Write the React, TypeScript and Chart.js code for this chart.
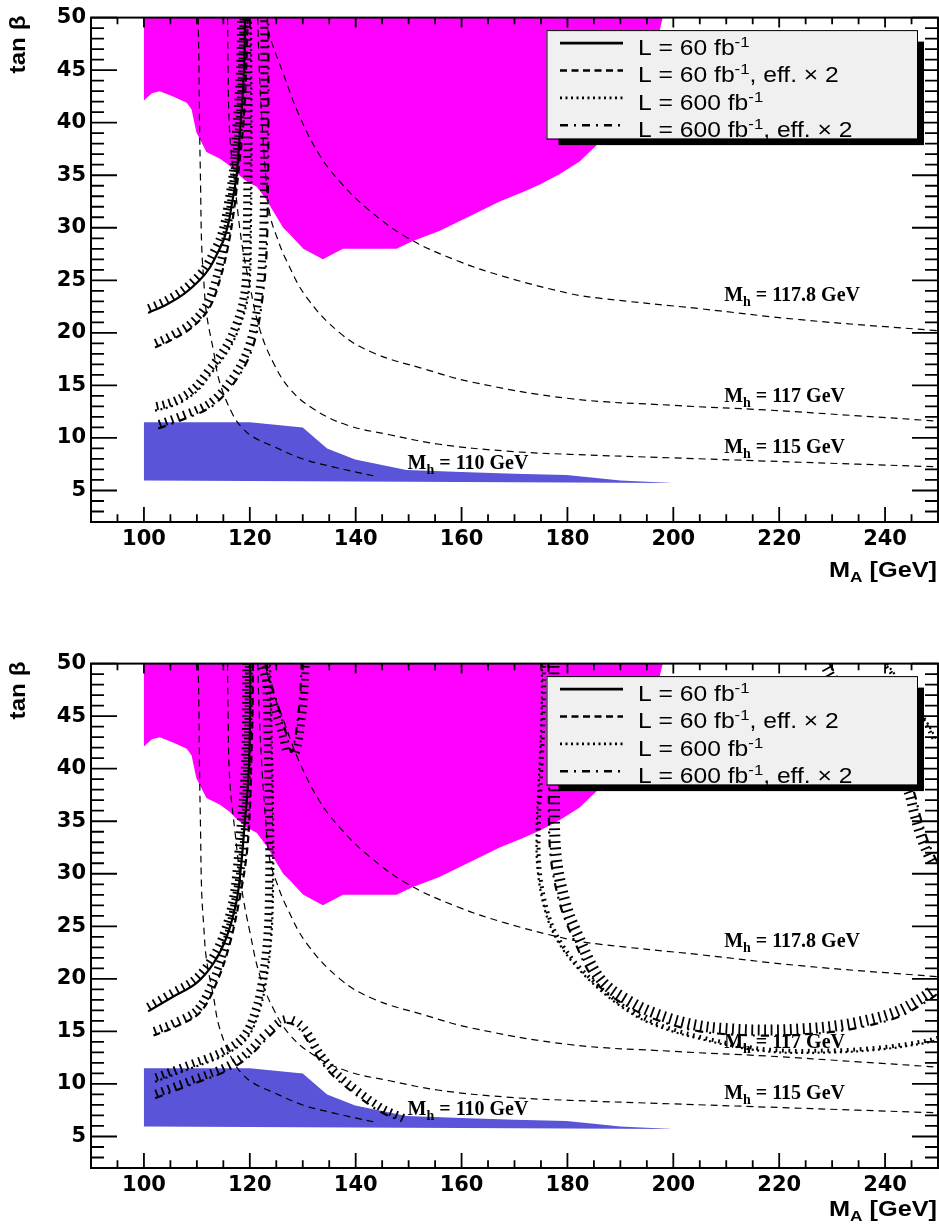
import React, { useEffect, useRef } from 'react';
import { Chart, registerables } from 'chart.js';

Chart.register(...registerables);

type P = [number, number];
type LineStyle = 'solid' | 'dashed' | 'dotted' | 'dashdot';

const X_MIN = 90;
const X_MAX = 250;
const Y_MIN = 2;
const Y_MAX = 50;
const X_TICK_VALUES = [100, 120, 140, 160, 180, 200, 220, 240];
const Y_TICK_VALUES = [5, 10, 15, 20, 25, 30, 35, 40, 45, 50];

// excluded (magenta) region, closed along tan beta = 50
const EXCLUDED_REGION: P[] = [
  [100, 50], [100, 42.1], [101.5, 42.8], [103, 43.0], [105.5, 42.5], [108.1, 41.9], [109, 41.25],
  [109.9, 39.1], [111.8, 37.2], [114.3, 36.6], [116.2, 35.9], [117.5, 35.2], [119.4, 34.4],
  [121.3, 33.9], [123.1, 32.7], [124.4, 31.6], [126.3, 30.0], [127.5, 29.4], [130.1, 28.0],
  [133.8, 27.0], [137.6, 28.0], [147.7, 28.0], [150.8, 28.75], [155.8, 29.7], [162.1, 31.25],
  [167.2, 32.5], [171.6, 33.4], [174.7, 34.1], [178.5, 35.1], [182.3, 36.3], [185.4, 37.8],
  [190, 41], [193, 44], [195.5, 46.5], [197.3, 48.5], [198, 50],
];

// LEP (blue) region, closed along its lower edge
const LEP_REGION: P[] = [
  [100, 5.95], [100, 11.5], [120, 11.5], [130, 11.0], [134.6, 9.0], [139.9, 7.95], [149.6, 6.95],
  [160, 6.75], [170, 6.6], [179.8, 6.47], [185, 6.2], [190, 5.95], [200, 5.72],
];

// Mh contours
const MH_110: P[] = [
  [110.25, 50], [110.4, 45], [110.5, 40], [110.7, 34], [110.9, 28.4], [111.3, 25], [111.8, 21.9],
  [113.1, 18.4], [114.3, 15.3], [116.8, 12.2], [118.5, 11.0], [120.6, 10.1], [124.4, 9.2],
  [130, 8.0], [135.7, 7.25], [143.3, 6.4],
];
const MH_115: P[] = [
  [115.8, 50], [115.9, 45], [116.2, 39], [117.2, 34], [118.5, 28.5], [120, 24.5], [121.9, 20.3],
  [124.4, 17.2], [127.5, 14.7], [131.9, 12.8], [138.2, 11.25], [146.4, 10.3], [155.8, 9.4],
  [168.4, 8.75], [180.4, 8.44], [200, 8.1], [217.5, 7.8], [235, 7.5], [250, 7.25],
];
const MH_117: P[] = [
  [121.5, 50], [121.8, 45], [122.3, 40], [123, 35], [123.8, 31.25], [125.2, 29], [126.9, 26.9],
  [130.7, 23.4], [137, 20], [143.3, 18.1], [152.7, 16.6], [162.1, 15.3], [180.4, 13.75],
  [200, 13.1], [217.5, 12.66], [235, 12.1], [250, 11.6],
];
const MH_1178: P[] = [
  [123.3, 50], [123.45, 48.75], [126.3, 44.7], [129.4, 40.6], [133.2, 36.9], [137, 34.4],
  [142, 31.9], [149.6, 29.1], [159, 26.9], [168.4, 25.3], [180.4, 23.75], [186, 23.3],
  [205, 22.3], [224, 21.25], [250, 20.2],
];
const MH_LINES: P[][] = [MH_110, MH_115, MH_117, MH_1178];
const MH_LABEL_TEXT = ['117.8', '117', '115', '110'];
const MH_LABEL_X = [209.6, 209.6, 209.6, 149.8];
const MH_LABEL_Y = [23.0, 13.44, 8.59, 7.09];

// upper panel discovery contours
const TOP_L60: P[] = [
  [100.8, 21.9], [104.3, 22.7], [107.7, 23.75], [110.5, 25], [112.3, 26.1], [114, 27.7],
  [115.1, 28.9], [116, 30.5], [116.6, 32.2], [117.5, 35], [118.1, 38.8], [118.7, 43],
  [119, 46.5], [119.1, 50],
];
const TOP_L60_EFF: P[] = [
  [102.1, 18.6], [105.5, 19.4], [109.3, 20.6], [112.5, 22.5], [114.6, 25.5], [116, 28.5],
  [117.1, 32], [118, 36], [118.8, 40], [119.3, 45], [119.6, 50],
];
const TOP_L600: P[] = [
  [102.1, 12.6], [104.5, 12.9], [107.4, 13.5], [110.3, 14.6], [113.1, 16.4], [115.1, 17.7],
  [116.8, 19.1], [118.3, 20.9], [119.4, 22.8], [120, 25], [120.2, 30], [120.3, 35],
  [120.3, 42], [120.2, 50],
];
const TOP_L600_EFF: P[] = [
  [102.7, 10.9], [105.5, 11.4], [108.1, 11.9], [110.6, 12.4], [113.1, 13.1], [116.2, 14.7],
  [119.4, 17.2], [121.3, 20], [122.5, 23.75], [123.1, 27], [123.4, 32.2], [123.5, 40], [123.5, 50],
];

// lower panel discovery contours
const BOT_L60: P[] = [
  [100.8, 16.9], [105.5, 18.3], [109.9, 19.6], [113.1, 21.45], [115.6, 23.95], [117.5, 27.4],
  [118.4, 31], [119.06, 34.9], [119.6, 38], [119.9, 41.1], [120.05, 45], [120.1, 50],
];
const BOT_L60_EFF: P[] = [
  [101.8, 14.6], [106.2, 15.5], [110.6, 16.8], [113.7, 19.6], [116.2, 23.3], [118.1, 27.7],
  [119.4, 31.8], [120, 36], [120.3, 41.1], [120.5, 45], [120.6, 50],
];
const BOT_L600: P[] = [
  [102.1, 10.2], [108.7, 11.45], [115, 12.7], [119.4, 14.3], [121.9, 17.1], [123.2, 20.2],
  [124.1, 24.3], [124.4, 28.95], [124.4, 35], [124.2, 41], [124, 46], [123.8, 50],
];
const BOT_L600_EFF: P[] = [
  [102.1, 8.64], [108.7, 9.9], [115, 11.1], [119.4, 12.4], [123.8, 14.6], [126.9, 15.8],
  [129.4, 15.2], [132.6, 12.7], [135.7, 10.8], [140.1, 8.96], [144.5, 7.4], [148.6, 6.45],
];
const BOT_L600_EFF_ISLAND: P[] = [
  [122.9, 50], [124.2, 47.8], [125.6, 45.5], [126.9, 43.3], [127.8, 41.6], [128.4, 42.5],
  [129, 44.5], [129.5, 47], [129.8, 50],
];
const BOT_L600_U: P[] = [
  [175.2, 50], [175.1, 45], [174.7, 40], [174.2, 34.3], [174.4, 30.2], [176, 26.1], [178.5, 23.3],
  [182.9, 20.5], [189.2, 17.7], [195.5, 15.8], [204.9, 14.3], [217.5, 13.1], [230.1, 13.0],
  [239.5, 13.3], [247.7, 13.9], [250, 14.2],
];
const BOT_L600_EFF_U: P[] = [
  [176.4, 50], [176.5, 38], [176.8, 31.8], [178.6, 27.1], [181, 23.95], [185.5, 19.6],
  [192, 17.2], [198.6, 15.8], [205, 15.0], [211.2, 14.7], [217.5, 14.6], [223.8, 14.7],
  [230, 14.95], [236.4, 15.5], [242.6, 16.4], [247.7, 17.8], [250, 18.6],
];
const BOT_L600_EFF_CORNER: P[] = [
  [229.5, 50], [232, 47.8], [235.5, 45.3], [239.5, 42.8], [243, 40.3], [245.3, 38],
  [246.6, 35.5], [247.8, 33.5], [249, 32], [250, 31],
];
const BOT_L600_CORNER: P[] = [[240.3, 50], [244, 47.5], [247, 45.2], [250, 42.5]];

const DASH: Record<LineStyle, number[]> = {
  solid: [],
  dashed: [7, 4.5],
  dotted: [2, 3.5],
  dashdot: [8, 6, 2, 6],
};

interface Contour {
  points: P[];
  style: LineStyle;
  side: number;
  len: number;
}

const TOP_CONTOURS: Contour[] = [
  { points: TOP_L60, style: 'solid', side: -1, len: 8 },
  { points: TOP_L60_EFF, style: 'dashed', side: -1, len: 8 },
  { points: TOP_L600, style: 'dotted', side: -1, len: 8 },
  { points: TOP_L600_EFF, style: 'dashdot', side: -1, len: 8 },
];

const BOTTOM_CONTOURS: Contour[] = [
  { points: BOT_L60, style: 'solid', side: -1, len: 8 },
  { points: BOT_L60_EFF, style: 'dashed', side: -1, len: 8 },
  { points: BOT_L600, style: 'dotted', side: -1, len: 8 },
  { points: BOT_L600_EFF, style: 'dashdot', side: -1, len: 8 },
  { points: BOT_L600_EFF_ISLAND, style: 'dashdot', side: 1, len: 8 },
  { points: BOT_L600_U, style: 'dotted', side: -1, len: 4 },
  { points: BOT_L600_EFF_U, style: 'dashdot', side: -1, len: 11 },
  { points: BOT_L600_EFF_CORNER, style: 'dashdot', side: 1, len: 10 },
  { points: BOT_L600_CORNER, style: 'dotted', side: 1, len: 4 },
];

const LEGEND_STYLES: LineStyle[] = ['solid', 'dashed', 'dotted', 'dashdot'];
const LEGEND_LUMI = ['60', '60', '600', '600'];
const LEGEND_EFF = [false, true, false, true];

const MAGENTA = '#ff00ff';
const BLUE = '#5954d8';
const SANS = "'Liberation Sans', Arial, sans-serif";
const SERIF = "'Liberation Serif', 'Times New Roman', serif";

type Run = { t: string; size: number; dy: number };

function drawRuns(
  ctx: CanvasRenderingContext2D,
  runs: Run[],
  x: number,
  y: number,
  family: string,
  weight: string,
  sx: number,
  align: 'left' | 'right',
) {
  ctx.save();
  ctx.textBaseline = 'alphabetic';
  ctx.textAlign = 'left';
  ctx.fillStyle = '#000';
  let total = 0;
  const ws = runs.map((r) => {
    ctx.font = `${weight} ${r.size}px ${family}`;
    const w = ctx.measureText(r.t).width;
    total += w;
    return w;
  });
  ctx.translate(x, y);
  ctx.scale(sx, 1);
  let cx = align === 'right' ? -total : 0;
  runs.forEach((r, k) => {
    ctx.font = `${weight} ${r.size}px ${family}`;
    ctx.fillText(r.t, cx, r.dy);
    cx += ws[k];
  });
  ctx.restore();
}

function densify(els: any[]): P[] {
  const out: P[] = [];
  for (let i = 0; i < els.length; i++) {
    const p = els[i];
    if (i === 0) {
      out.push([p.x, p.y]);
      continue;
    }
    const q = els[i - 1];
    const c1x = q.cp2x ?? q.x;
    const c1y = q.cp2y ?? q.y;
    const c2x = p.cp1x ?? p.x;
    const c2y = p.cp1y ?? p.y;
    for (let s = 1; s <= 16; s++) {
      const t = s / 16;
      const u = 1 - t;
      out.push([
        u * u * u * q.x + 3 * u * u * t * c1x + 3 * u * t * t * c2x + t * t * t * p.x,
        u * u * u * q.y + 3 * u * u * t * c1y + 3 * u * t * t * c2y + t * t * t * p.y,
      ]);
    }
  }
  return out;
}

function makeDecorPlugin(titleOffset: number) {
  return {
    id: 'decor',
    afterDatasetsDraw(chart: any) {
      const ctx: CanvasRenderingContext2D = chart.ctx;
      const a = chart.chartArea;
      const xs = chart.scales.x;
      const ys = chart.scales.y;

      // hatches along contours
      ctx.save();
      ctx.beginPath();
      ctx.rect(a.left, a.top, a.right - a.left, a.bottom - a.top);
      ctx.clip();
      chart.data.datasets.forEach((ds: any, i: number) => {
        if (!ds.hatch) return;
        const meta = chart.getDatasetMeta(i);
        const poly = densify(meta.data as any[]);
        const { side, len } = ds.hatch;
        const gap = 6.5;
        ctx.strokeStyle = '#000';
        ctx.lineWidth = 1.8;
        ctx.setLineDash([]);
        ctx.beginPath();
        let acc = gap / 2;
        for (let k = 0; k < poly.length - 1; k++) {
          const [x0, y0] = poly[k];
          const [x1, y1] = poly[k + 1];
          const dx = x1 - x0;
          const dy = y1 - y0;
          const L = Math.hypot(dx, dy);
          if (L === 0) continue;
          const ux = dx / L;
          const uy = dy / L;
          const nx = -uy * side;
          const ny = ux * side;
          let t = acc;
          while (t <= L) {
            const px = x0 + ux * t;
            const py = y0 + uy * t;
            ctx.moveTo(px, py);
            ctx.lineTo(px + nx * len, py + ny * len);
            t += gap;
          }
          acc = t - L;
        }
        ctx.stroke();
      });
      ctx.restore();

      // Mh labels
      MH_LABEL_TEXT.forEach((v, i) => {
        drawRuns(
          ctx,
          [
            { t: 'M', size: 20, dy: 0 },
            { t: 'h', size: 14, dy: 5 },
            { t: ` = ${v} GeV`, size: 20, dy: 0 },
          ],
          xs.getPixelForValue(MH_LABEL_X[i]),
          ys.getPixelForValue(MH_LABEL_Y[i]),
          SERIF,
          'bold',
          1,
          'left',
        );
      });

      // frame and tick marks
      ctx.save();
      ctx.strokeStyle = '#000';
      ctx.setLineDash([]);
      ctx.lineWidth = 1.8;
      ctx.beginPath();
      for (let v = X_MIN; v <= X_MAX; v += 5) {
        const px = xs.getPixelForValue(v);
        const major = v % 20 === 0;
        ctx.moveTo(px, a.bottom);
        ctx.lineTo(px, a.bottom - (major ? 15 : 7.7));
        ctx.moveTo(px, a.top);
        ctx.lineTo(px, a.top + (major ? 10 : 6.6));
      }
      for (let v = Y_MIN; v <= Y_MAX; v += 1) {
        const py = ys.getPixelForValue(v);
        const l = v % 5 === 0 ? 26 : 13;
        ctx.moveTo(a.left, py);
        ctx.lineTo(a.left + l, py);
        ctx.moveTo(a.right, py);
        ctx.lineTo(a.right - l, py);
      }
      ctx.stroke();
      ctx.lineWidth = 2;
      ctx.strokeRect(a.left, a.top, a.right - a.left, a.bottom - a.top);
      ctx.restore();

      // axis titles
      drawRuns(
        ctx,
        [
          { t: 'M', size: 22, dy: 0 },
          { t: 'A', size: 15, dy: 5 },
          { t: ' [GeV]', size: 22, dy: 0 },
        ],
        a.right - 1,
        a.bottom + titleOffset,
        SANS,
        'bold',
        1.15,
        'right',
      );
      ctx.save();
      ctx.translate(25, a.top - 2);
      ctx.rotate(-Math.PI / 2);
      drawRuns(ctx, [{ t: 'tan \u03b2', size: 22, dy: 0 }], 0, 0, SANS, 'bold', 1.1, 'right');
      ctx.restore();

      // legend box
      const bx = 546.5;
      const by = a.top + 12.5;
      const bw = 370.5;
      const bh = 108.5;
      ctx.save();
      ctx.fillStyle = '#000';
      ctx.fillRect(bx + 12, by + 11.5, bw - 5, bh - 5);
      ctx.fillStyle = '#f0f0f0';
      ctx.fillRect(bx, by, bw, bh);
      ctx.strokeStyle = '#000';
      ctx.lineWidth = 1;
      ctx.strokeRect(bx + 0.5, by + 0.5, bw, bh);
      LEGEND_STYLES.forEach((st, i) => {
        const ly = by + 13 + i * 27.4;
        ctx.beginPath();
        ctx.lineWidth = 2.6;
        ctx.setLineDash(DASH[st]);
        ctx.moveTo(bx + 13.5, ly);
        ctx.lineTo(bx + 76.5, ly);
        ctx.stroke();
        ctx.setLineDash([]);
        const runs: Run[] = [
          { t: `L = ${LEGEND_LUMI[i]} fb`, size: 22, dy: 0 },
          { t: '-1', size: 15, dy: -8 },
        ];
        if (LEGEND_EFF[i]) runs.push({ t: ', eff. \u00d7 2', size: 22, dy: 0 });
        drawRuns(ctx, runs, bx + 91.5, ly + 11.7, SANS, 'normal', 1.12, 'left');
      });
      ctx.restore();
    },
  };
}

const toXY = (arr: P[]) => arr.map(([x, y]) => ({ x, y }));

const TICK_FONT = { family: "'DejaVu Sans'", weight: 'bold', size: 21 };

function buildConfig(contours: Contour[], xAxisHeight: number, titleOffset: number): any {
  const datasets: any[] = [];
  datasets.push({
    label: 'excluded',
    data: toXY(EXCLUDED_REGION),
    showLine: true,
    fill: 'shape',
    backgroundColor: MAGENTA,
    borderColor: MAGENTA,
    borderWidth: 0,
    pointRadius: 0,
    tension: 0,
    order: 10,
  });
  datasets.push({
    label: 'LEP',
    data: toXY(LEP_REGION),
    showLine: true,
    fill: 'shape',
    backgroundColor: BLUE,
    borderColor: BLUE,
    borderWidth: 0,
    pointRadius: 0,
    tension: 0,
    order: 9,
  });
  MH_LINES.forEach((line, i) => {
    datasets.push({
      label: `Mh ${i}`,
      data: toXY(line),
      showLine: true,
      fill: false,
      borderColor: '#000',
      borderWidth: 1.2,
      borderDash: [7, 5],
      pointRadius: 0,
      tension: 0.4,
      order: 5,
    });
  });
  contours.forEach((c, i) => {
    datasets.push({
      label: `contour ${i}`,
      data: toXY(c.points),
      showLine: true,
      fill: false,
      borderColor: '#000',
      borderWidth: 2.2,
      borderDash: DASH[c.style],
      pointRadius: 0,
      tension: 0.35,
      order: 1,
      hatch: { side: c.side, len: c.len },
    });
  });

  return {
    type: 'scatter',
    data: { datasets },
    options: {
      responsive: false,
      animation: false,
      devicePixelRatio: 1,
      events: [],
      layout: { padding: { top: 9, right: 1, left: 0, bottom: 0 } },
      plugins: { legend: { display: false }, tooltip: { enabled: false } },
      scales: {
        x: {
          type: 'linear',
          position: 'bottom',
          min: X_MIN,
          max: X_MAX,
          afterFit: (s: any) => {
            s.height = xAxisHeight;
          },
          afterBuildTicks: (s: any) => {
            s.ticks = X_TICK_VALUES.map((v) => ({ value: v }));
          },
          grid: { display: false, drawTicks: false, tickLength: 0 },
          border: { display: false },
          ticks: {
            font: TICK_FONT,
            color: '#000',
            padding: 5,
            maxRotation: 0,
            autoSkip: false,
            callback: (v: any) => String(v),
          },
        },
        y: {
          type: 'linear',
          position: 'left',
          min: Y_MIN,
          max: Y_MAX,
          afterFit: (s: any) => {
            s.width = 91;
          },
          afterBuildTicks: (s: any) => {
            s.ticks = Y_TICK_VALUES.map((v) => ({ value: v }));
          },
          grid: { display: false, drawTicks: false, tickLength: 0 },
          border: { display: false },
          ticks: {
            font: TICK_FONT,
            color: '#000',
            padding: 5,
            autoSkip: false,
            callback: (v: any) => String(v),
          },
        },
      },
    },
    plugins: [makeDecorPlugin(titleOffset)],
  };
}

export default function App() {
  const topRef = useRef<HTMLCanvasElement>(null);
  const botRef = useRef<HTMLCanvasElement>(null);

  useEffect(() => {
    const c1 = new Chart(topRef.current as HTMLCanvasElement, buildConfig(TOP_CONTOURS, 124, 55));
    const c2 = new Chart(botRef.current as HTMLCanvasElement, buildConfig(BOTTOM_CONTOURS, 58, 48));
    return () => {
      c1.destroy();
      c2.destroy();
    };
  }, []);

  return (
    <div style={{ position: 'absolute', left: 0, top: 0, width: 939, height: 1226, background: '#fff' }}>
      <canvas
        ref={topRef}
        width={939}
        height={646}
        style={{ position: 'absolute', left: 0, top: 0, width: 939, height: 646, display: 'block' }}
      />
      <canvas
        ref={botRef}
        width={939}
        height={580}
        style={{ position: 'absolute', left: 0, top: 646, width: 939, height: 580, display: 'block' }}
      />
    </div>
  );
}
